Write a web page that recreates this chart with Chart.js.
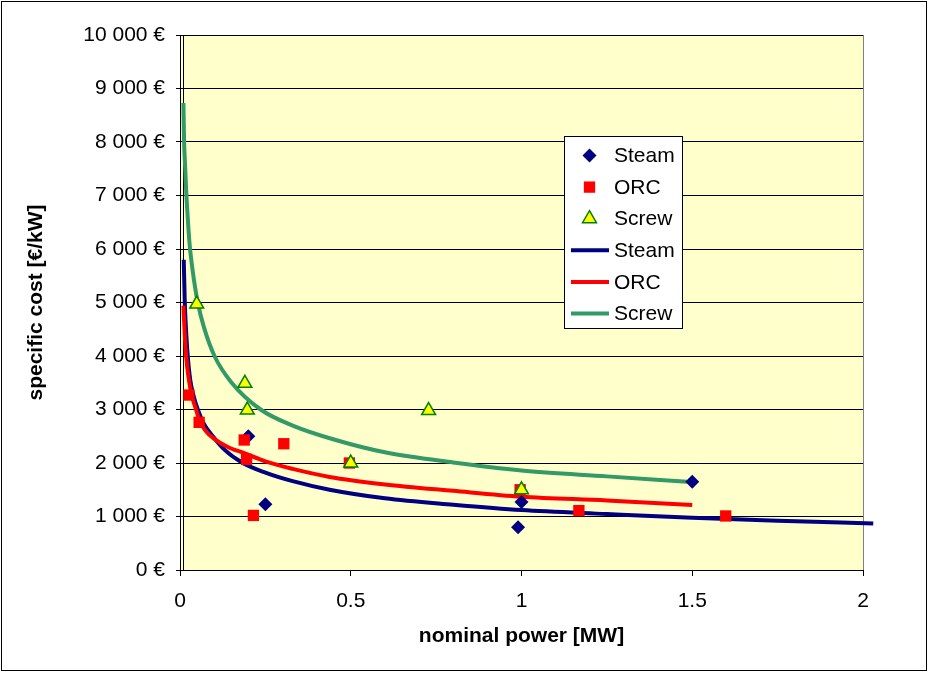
<!DOCTYPE html>
<html>
<head>
<meta charset="utf-8">
<title>specific cost vs nominal power</title>
<script src="https://cdn.jsdelivr.net/npm/chart.js@4.4.0/dist/chart.umd.min.js"></script>
<style>
  html, body { margin: 0; padding: 0; background: #fff; }
  #wrap { width: 929px; height: 673px; }
</style>
</head>
<body>
<div id="wrap"><canvas id="costChart" width="929" height="673"></canvas></div>
<script>
// measured plants: nominal power [MW] / specific cost [€/kW]
const steamPowerMW = [0.2, 0.25, 1.0, 0.99, 1.5];
const steamCost    = [2500, 1230, 1270, 800, 1650];

const orcPowerMW = [0.026, 0.056, 0.188, 0.195, 0.215, 0.304, 0.496, 0.996, 1.168, 1.598];
const orcCost    = [3270, 2760, 2430, 2070, 1020, 2360, 2000, 1500, 1110, 1010];

const screwPowerMW = [0.049, 0.19, 0.197, 0.5, 0.728, 1.0];
const screwCost    = [4970, 3490, 2990, 2000, 2980, 1500];

// trend curves (power fit)
const steamTrendX = [0.011, 0.014, 0.018, 0.022, 0.03, 0.04, 0.052, 0.07, 0.096, 0.13, 0.184, 0.25, 0.33, 0.438, 0.6, 0.8, 1.0, 1.25, 1.5, 1.75, 2.03];
const steamTrendY = [5800, 5000, 4450, 4050, 3550, 3250, 3000, 2730, 2500, 2250, 2000, 1820, 1660, 1500, 1340, 1220, 1120, 1045, 975, 920, 870];

const orcTrendX = [0.010, 0.014, 0.018, 0.025, 0.035, 0.047, 0.057, 0.075, 0.1, 0.14, 0.19, 0.25, 0.33, 0.438, 0.6, 0.8, 1.0, 1.25, 1.5];
const orcTrendY = [4940, 4400, 4000, 3600, 3250, 3000, 2800, 2600, 2450, 2300, 2180, 2030, 1890, 1740, 1600, 1480, 1370, 1300, 1215];

const screwTrendX = [0.010, 0.012, 0.015, 0.018, 0.023, 0.028, 0.037, 0.052, 0.07, 0.101, 0.15, 0.236, 0.33, 0.456, 0.6, 0.8, 1.0, 1.25, 1.485];
const screwTrendY = [8730, 8000, 7550, 7100, 6550, 6100, 5600, 5000, 4540, 4000, 3510, 3000, 2700, 2430, 2200, 2010, 1860, 1750, 1650];

const yTicks = [0, 1000, 2000, 3000, 4000, 5000, 6000, 7000, 8000, 9000, 10000];
const xTicks = [0, 0.5, 1, 1.5, 2];

const pts = (xs, ys) => xs.map((x, i) => ({ x: x, y: ys[i] }));
const FONT = '"Liberation Sans", Arial, sans-serif';

function euro(v) {
  return String(v).replace(/\B(?=(\d{3})+(?!\d))/g, ' ') + ' €';
}

// white page, frame, pale yellow plot area, extra axis line at 0.01
const frame = {
  id: 'frame',
  beforeDraw(chart) {
    const ctx = chart.ctx, a = chart.chartArea;
    ctx.save();
    ctx.fillStyle = '#fff';
    ctx.fillRect(0, 0, chart.width, chart.height);
    ctx.strokeStyle = '#000';
    ctx.lineWidth = 1;
    ctx.strokeRect(1.5, 1.5, chart.width - 4, chart.height - 4);
    ctx.fillStyle = '#FFFFCC';
    ctx.fillRect(a.left, a.top, a.right - a.left, a.bottom - a.top);
    ctx.restore();
  },
  beforeDatasetsDraw(chart) {
    const ctx = chart.ctx, a = chart.chartArea;
    ctx.save();
    ctx.lineWidth = 1;
    ctx.strokeStyle = '#808080';
    ctx.beginPath();
    ctx.moveTo(Math.round(a.right) + 0.5, a.top);
    ctx.lineTo(Math.round(a.right) + 0.5, a.bottom);
    ctx.stroke();
    const x0 = Math.round(chart.scales.x.getPixelForValue(0.01)) + 0.5;
    ctx.strokeStyle = '#000';
    ctx.beginPath();
    ctx.moveTo(x0, a.top);
    ctx.lineTo(x0, a.bottom);
    ctx.stroke();
    ctx.restore();
  }
};

function marker(ctx, style, r, x, y) {
  ctx.beginPath();
  if (style === 'rectRot') {
    ctx.moveTo(x, y - r); ctx.lineTo(x + r, y); ctx.lineTo(x, y + r); ctx.lineTo(x - r, y);
  } else if (style === 'rect') {
    const s = r * Math.SQRT1_2;
    ctx.rect(x - s, y - s, 2 * s, 2 * s);
  } else {
    const dx = r * Math.sin(Math.PI / 3);
    ctx.moveTo(x, y - r); ctx.lineTo(x + dx, y + r / 2); ctx.lineTo(x - dx, y + r / 2);
  }
  ctx.closePath();
}

// legend box inside the plot
const legendBox = {
  id: 'legendBox',
  afterDraw(chart) {
    const ctx = chart.ctx;
    const left = 564.5, top = 136.5, w = 118, h = 192;
    ctx.save();
    ctx.fillStyle = '#fff';
    ctx.fillRect(left, top, w, h);
    ctx.strokeStyle = '#000';
    ctx.lineWidth = 1;
    ctx.strokeRect(left, top, w, h);
    ctx.font = '21px ' + FONT;
    ctx.textBaseline = 'middle';
    chart.data.datasets.forEach((ds, i) => {
      const cy = top + 19 + i * 31.6;
      if (ds.showLine) {
        ctx.strokeStyle = ds.borderColor;
        ctx.lineWidth = ds.borderWidth;
        ctx.beginPath();
        ctx.moveTo(571, cy);
        ctx.lineTo(609, cy);
        ctx.stroke();
      } else {
        ctx.fillStyle = ds.backgroundColor;
        ctx.strokeStyle = ds.borderColor;
        ctx.lineWidth = ds.borderWidth;
        marker(ctx, ds.pointStyle, ds.pointRadius, 589.5, cy);
        ctx.fill();
        if (ds.borderWidth > 0) ctx.stroke();
      }
      ctx.fillStyle = '#000';
      ctx.fillText(ds.label, 614, cy + 1);
    });
    ctx.restore();
  }
};

new Chart(document.getElementById('costChart'), {
  type: 'scatter',
  data: {
    datasets: [
      { label: 'Steam', data: pts(steamPowerMW, steamCost), pointStyle: 'rectRot', pointRadius: 7,
        backgroundColor: '#000080', borderColor: '#000080', borderWidth: 0, order: 2 },
      { label: 'ORC', data: pts(orcPowerMW, orcCost), pointStyle: 'rect', pointRadius: 8,
        backgroundColor: '#FF0000', borderColor: '#FF0000', borderWidth: 0, order: 1 },
      { label: 'Screw', data: pts(screwPowerMW, screwCost), pointStyle: 'triangle', pointRadius: 8,
        backgroundColor: '#FFFF00', borderColor: '#008000', borderWidth: 1.5, order: 0 },
      { label: 'Steam', data: pts(steamTrendX, steamTrendY), showLine: true, pointRadius: 0,
        borderColor: '#000080', borderWidth: 4, cubicInterpolationMode: 'monotone', clip: false, order: 5 },
      { label: 'ORC', data: pts(orcTrendX, orcTrendY), showLine: true, pointRadius: 0,
        borderColor: '#FF0000', borderWidth: 4, cubicInterpolationMode: 'monotone', order: 4 },
      { label: 'Screw', data: pts(screwTrendX, screwTrendY), showLine: true, pointRadius: 0,
        borderColor: '#339966', borderWidth: 4, cubicInterpolationMode: 'monotone', order: 3 }
    ]
  },
  options: {
    responsive: false,
    animation: false,
    layout: { padding: { top: 35, right: 66, left: 0, bottom: 0 } },
    plugins: {
      legend: { display: false },
      tooltip: { enabled: false }
    },
    scales: {
      x: {
        type: 'linear',
        min: 0,
        max: 2,
        afterBuildTicks: (s) => { s.ticks = xTicks.map(v => ({ value: v })); },
        afterFit: (s) => { s.height = 103; },
        grid: { drawOnChartArea: false, color: '#000', tickLength: 6 },
        border: { color: '#000', width: 1 },
        ticks: { color: '#000', font: { family: FONT, size: 21 }, padding: 13, callback: (v) => String(v) },
        title: { display: true, text: 'nominal power [MW]', color: '#000',
                 font: { family: FONT, size: 21, weight: 'bold' }, padding: { top: 0, bottom: 24 } }
      },
      y: {
        type: 'linear',
        min: 0,
        max: 10000,
        afterBuildTicks: (s) => { s.ticks = yTicks.map(v => ({ value: v })); },
        afterFit: (s) => { s.width = 180; },
        grid: { color: '#000', lineWidth: 1, tickLength: 4 },
        border: { color: '#000', width: 1 },
        ticks: { color: '#000', font: { family: FONT, size: 21 }, padding: 11, callback: (v) => euro(v) },
        title: { display: true, text: 'specific cost [€/kW]', color: '#000',
                 font: { family: FONT, size: 21, weight: 'bold' }, padding: { top: 24, bottom: 0 } }
      }
    }
  },
  plugins: [frame, legendBox]
});
</script>
</body>
</html>
